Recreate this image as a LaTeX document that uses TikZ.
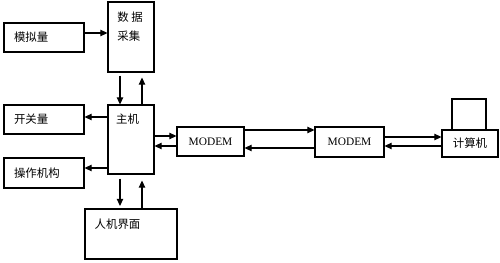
\documentclass[tikz,border=0pt]{standalone}
\usepackage{fontspec}
\setmainfont{Liberation Serif}
\newfontfamily\cjk{Noto Sans CJK SC}
\usetikzlibrary{arrows.meta, positioning, calc}
\tikzset{
  box/.style={rectangle, draw=black, line width=0.6pt, inner sep=0pt},
  sidebox/.style={box, minimum width=1.6cm, text width=1.2cm, inner xsep=0.2cm,
    align=left, font=\cjk\fontsize{6.5}{8}\selectfont},
  modem/.style={box, minimum height=0.58cm, font=\fontsize{6.5}{8}\selectfont},
  label/.style={inner sep=0pt, font=\cjk\fontsize{6.5}{10.8}\selectfont, align=left},
  arrow/.style={-{Triangle[length=4pt,width=3.6pt]}, line width=0.6pt}
}

\begin{document}
\begin{tikzpicture}[x=0.02cm, y=-0.02cm]
  \useasboundingbox (0,0) rectangle (500,263);

  % input side
  \node[sidebox, minimum height=0.58cm] (analog) at (44,37.5) {模拟量};
  \node[box, minimum width=0.92cm, minimum height=1.4cm] (daq) at (131,37) {};
  \node[label, anchor=west] (daq-t) at (117,27) {数\ 据\\采集};

  % host and its outputs
  \node[box, minimum width=0.92cm, minimum height=1.38cm] (host) at (131,139.5) {};
  \node[label] (host-t) at (127.5,119) {主机};
  \node[sidebox, minimum height=0.58cm] (switch) at (44,119.5) {开关量};
  \node[sidebox, minimum height=0.6cm] (actuator) at (44,173) {操作机构};
  \node[box, minimum width=1.84cm, minimum height=1.0cm] (hmi) at (131,234) {};
  \node[label] (hmi-t) at (117.5,224) {人机界面};

  % line to the computer
  \node[modem, minimum width=1.34cm] (modemA) at (210.5,141.5) {MODEM};
  \node[modem, minimum width=1.38cm, minimum height=0.6cm] (modemB) at (349.5,142) {MODEM};
  \node[box, minimum width=1.12cm, minimum height=0.54cm, font=\cjk\fontsize{6.5}{8}\selectfont] (pc) at (470,143.5) {计算机};
  \node[box, minimum width=0.68cm, minimum height=0.62cm] (screen) at (469,114.5) {};

  % connectors
  \draw[arrow] ([yshift=0.09cm]analog.east) -- ([yshift=0.09cm]analog.east -| daq.west);
  \draw[arrow] ([xshift=-0.22cm,yshift=-0.06cm]daq.south) -- ([xshift=-0.22cm]host.north);
  \draw[arrow] ([xshift=0.22cm]host.north) -- ([xshift=0.22cm,yshift=-0.1cm]daq.south);
  \draw[arrow] ([yshift=0.05cm]switch.east -| host.west) -- ([yshift=0.05cm]switch.east);
  \draw[arrow] ([yshift=0.1cm]actuator.east -| host.west) -- ([yshift=0.1cm]actuator.east);
  \draw[arrow] ([xshift=-0.22cm,yshift=-0.08cm]host.south) -- ([xshift=-0.22cm,yshift=0.05cm]hmi.north);
  \draw[arrow] ([xshift=0.22cm]hmi.north) -- ([xshift=0.22cm,yshift=-0.12cm]host.south);
  \draw[arrow] ([yshift=0.11cm]modemA.west -| host.east) -- ([yshift=0.11cm]modemA.west);
  \draw[arrow] ([yshift=-0.09cm]modemA.west) -- ([yshift=-0.09cm]modemA.west -| host.east);
  \draw[arrow] ([yshift=0.23cm]modemA.east) -- ([yshift=0.23cm]modemA.east -| modemB.west);
  \draw[arrow] ([yshift=-0.13cm]modemA.east -| modemB.west) -- ([yshift=-0.13cm]modemA.east);
  \draw[arrow] ([yshift=0.1cm]modemB.east) -- ([yshift=0.1cm]modemB.east -| pc.west);
  \draw[arrow] ([yshift=-0.08cm]modemB.east -| pc.west) -- ([yshift=-0.08cm]modemB.east);
\end{tikzpicture}
\end{document}
